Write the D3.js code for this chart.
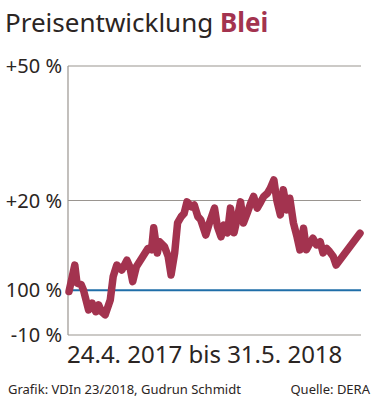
<!DOCTYPE html>
<html>
<head>
<meta charset="utf-8">
<script src="https://cdn.jsdelivr.net/npm/d3@7"></script>
<style>
  body { margin: 0; background: #fff; }
  svg { display: block; }
</style>
</head>
<body>
<div id="chart"></div>
<script>
// Preisentwicklung Blei, Veränderung in % seit 24.4.2017
const dates = [
  "2017-04-24", "2017-05-02", "2017-05-05", "2017-05-11", "2017-05-14", "2017-05-21",
  "2017-05-26", "2017-05-31", "2017-06-04", "2017-06-08", "2017-06-13", "2017-06-20",
  "2017-06-24", "2017-06-29", "2017-07-06", "2017-07-13", "2017-07-17", "2017-07-21",
  "2017-07-26", "2017-08-04", "2017-08-11", "2017-08-16", "2017-08-19", "2017-08-24",
  "2017-08-27", "2017-09-03", "2017-09-08", "2017-09-12", "2017-09-17", "2017-09-21",
  "2017-09-26", "2017-09-30", "2017-10-04", "2017-10-10", "2017-10-14", "2017-10-19",
  "2017-10-23", "2017-10-30", "2017-11-04", "2017-11-11", "2017-11-15", "2017-11-20",
  "2017-11-24", "2017-11-29", "2017-12-03", "2017-12-08", "2017-12-12", "2017-12-17",
  "2017-12-21", "2017-12-26", "2017-12-31", "2018-01-04", "2018-01-09", "2018-01-14",
  "2018-01-18", "2018-01-23", "2018-01-27", "2018-02-01", "2018-02-05", "2018-02-10",
  "2018-02-14", "2018-02-19", "2018-02-23", "2018-02-28", "2018-03-05", "2018-03-09",
  "2018-03-14", "2018-03-18", "2018-03-23", "2018-03-27", "2018-04-01", "2018-04-06",
  "2018-04-10", "2018-04-15", "2018-04-19", "2018-04-24", "2018-04-28", "2018-05-31"
];
const change = [
  -0.3, 5.6, 1.6, 1.2, 0.0, -4.4,
  -2.9, -4.8, -3.3, -4.8, -5.5, -2.2,
  3.0, 5.6, 4.5, 6.7, 5.2, 1.9,
  5.2, 7.5, 9.3, 9.0, 13.9, 8.3,
  10.8, 9.7, 7.5, 3.4, 8.3, 15.0,
  16.4, 17.1, 19.7, 18.6, 19.0, 16.4,
  15.7, 12.3, 15.0, 18.3, 14.2, 11.9,
  14.5, 12.8, 18.3, 12.8, 15.7, 19.7,
  15.0, 17.1, 19.4, 20.9, 18.3, 19.7,
  20.9, 21.6, 22.7, 24.6, 20.1, 16.8,
  22.4, 17.9, 20.5, 15.0, 11.9, 9.0,
  13.8, 9.0, 10.5, 11.6, 10.1, 10.8,
  8.3, 9.3, 8.6, 7.5, 5.6, 12.7
];
const yTicks = [50, 20, 0, -10];
const yTickLabels = ["+50 %", "+20 %", "100 %", "-10 %"];

const W = 378, H = 410;
const parse = d3.timeParse("%Y-%m-%d");
const data = dates.map((d, i) => ({ date: parse(d), value: change[i] }));

const svg = d3.select("#chart").append("svg")
  .attr("width", W)
  .attr("height", H)
  .style("font-family", "'Noto Sans', sans-serif");

const x = d3.scaleTime()
  .domain(d3.extent(data, d => d.date))
  .range([69, 360]);
const y = d3.scaleLinear()
  .domain([-10, 50])
  .range([335, 66]);

// title
const title = svg.append("text")
  .attr("x", 5)
  .attr("y", 32)
  .style("font-size", "26px")
  .style("fill", "#2b2523");
title.append("tspan").text("Preisentwicklung ");
title.append("tspan").text("Blei").style("font-weight", "bold").style("fill", "#a3334f");

// gridlines
svg.append("g")
  .selectAll("line")
  .data([50, 20])
  .join("line")
  .attr("x1", 68).attr("x2", 361)
  .attr("y1", d => y(d)).attr("y2", d => y(d))
  .attr("stroke", "#9a9590")
  .attr("stroke-width", 1.2);

// axes frame
svg.append("line")
  .attr("x1", 68).attr("x2", 68)
  .attr("y1", y(50)).attr("y2", y(-10))
  .attr("stroke", "#9a9590").attr("stroke-width", 1.2);
svg.append("line")
  .attr("x1", 68).attr("x2", 361)
  .attr("y1", y(-10)).attr("y2", y(-10))
  .attr("stroke", "#9a9590").attr("stroke-width", 1.2);

// tick labels
svg.append("g")
  .selectAll("text")
  .data(yTicks)
  .join("text")
  .attr("x", 62)
  .attr("y", d => y(d) + 7)
  .attr("text-anchor", "end")
  .style("font-size", "20px")
  .style("fill", "#2b2523")
  .text((d, i) => yTickLabels[i]);

// base line
svg.append("line")
  .attr("x1", 68).attr("x2", 361)
  .attr("y1", y(0)).attr("y2", y(0))
  .attr("stroke", "#1f6ea8")
  .attr("stroke-width", 2);

// price line
const line = d3.line()
  .x(d => x(d.date))
  .y(d => y(d.value));

svg.append("path")
  .datum(data)
  .attr("d", line)
  .attr("fill", "none")
  .attr("stroke", "#a3334f")
  .attr("stroke-width", 7.5)
  .attr("stroke-linejoin", "round")
  .attr("stroke-linecap", "round");

// period label
svg.append("text")
  .attr("x", 67)
  .attr("y", 363)
  .style("font-size", "24px")
  .style("fill", "#2b2523")
  .text("24.4. 2017 bis 31.5. 2018");

// footer
svg.append("text")
  .attr("x", 8)
  .attr("y", 394)
  .style("font-size", "13px")
  .style("fill", "#2b2523")
  .text("Grafik: VDIn 23/2018, Gudrun Schmidt");
svg.append("text")
  .attr("x", 370)
  .attr("y", 394)
  .attr("text-anchor", "end")
  .style("font-size", "13px")
  .style("fill", "#2b2523")
  .text("Quelle: DERA");
</script>
</body>
</html>
